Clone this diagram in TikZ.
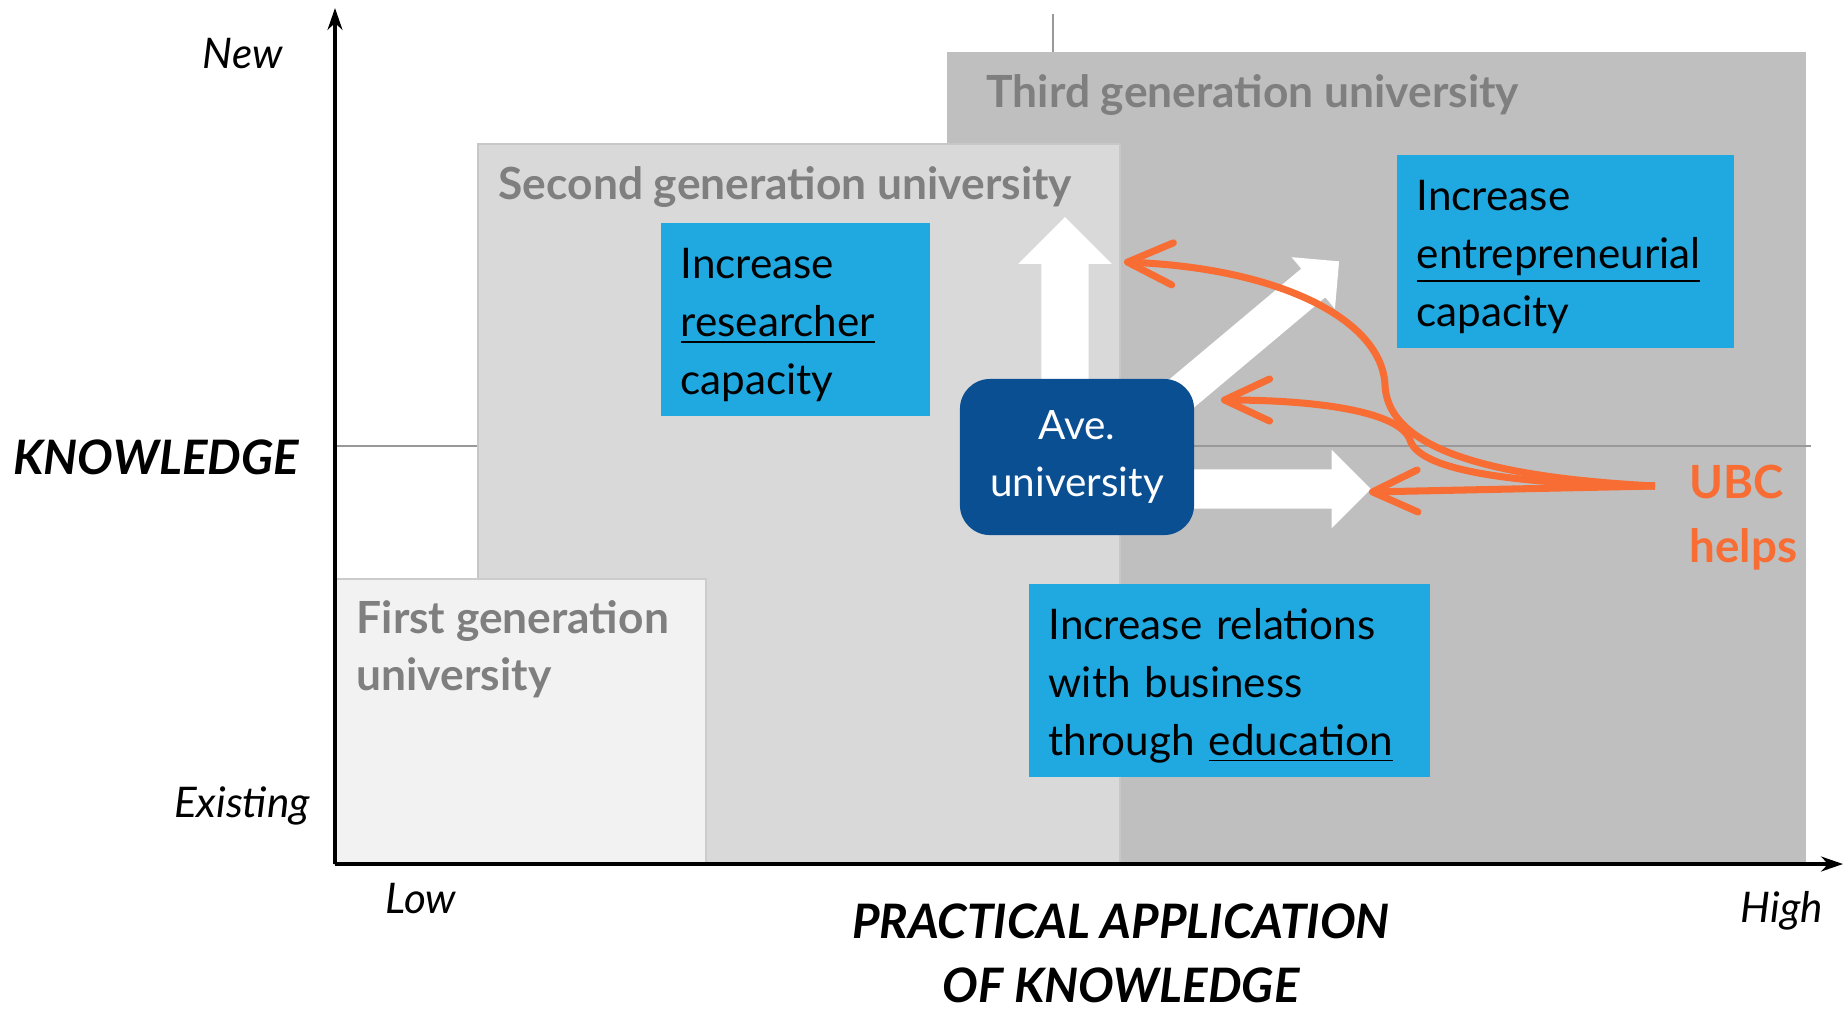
\documentclass[tikz,border=0pt]{standalone}
\usepackage{fontspec}
\setmainfont{Lato}
\usetikzlibrary{arrows.meta,shapes.arrows}

\definecolor{ubcorange}{RGB}{247,109,52}
\definecolor{boxblue}{RGB}{32,169,224}
\definecolor{avenavy}{RGB}{11,79,147}
\definecolor{titlegray}{RGB}{127,127,127}

\tikzset{
  gentitle/.style={anchor=base west, inner sep=0pt, text=titlegray, font=\fontsize{12.6}{15}\selectfont\bfseries},
  goalbox/.style={fill=boxblue, anchor=north west, minimum height=1.93cm, inner xsep=0.2cm, inner ysep=0pt, align=left, font=\fontsize{12}{16.4}\selectfont, execute at begin node={\rule{0pt}{0.42cm}}},
  fatarrow/.style={single arrow, fill=white, inner sep=0pt, single arrow head extend=#1, anchor=tail},
  helparrow/.style={ubcorange, line width=2pt, -{Straight Barb[length=0.45cm, width=0.42cm, round]}},
  axislabel/.style={anchor=base, inner sep=0pt, font=\fontsize{12}{14}\selectfont\itshape},
  axistitle/.style={anchor=base, inner sep=0pt, font=\fontsize{13.5}{16}\selectfont\bfseries\itshape},
}

\begin{document}
\begin{tikzpicture}[x=0.01cm, y=-0.01cm]
    \useasboundingbox (0,0) rectangle (1844,1008);

    % Grid lines and the three regions
    \draw[black!40, line width=0.6pt] (1053,14) -- (1053,864);
    \fill[black!25] (947,52) rectangle (1806,864);
    \draw[black!40, line width=0.6pt] (335,446) -- (1811,446);
    \filldraw[fill=black!15, draw=black!22, line width=0.8pt] (478,144) rectangle (1120,864);
    \filldraw[fill=black!5, draw=black!20, line width=0.8pt] (335,579) rectangle (706,864);

    % Axes
    \coordinate (origin) at (335,864);
    \coordinate (ytop) at (335,8);
    \coordinate (xend) at (1843,864);
    \draw[line width=0.9pt, -{Stealth[length=0.22cm, width=0.15cm]}] (origin) -- (ytop);
    \draw[line width=0.9pt, -{Stealth[length=0.22cm, width=0.15cm]}] (origin) -- (xend);

    % Axis labels
    \node[axislabel] (new) at (243,68) {New};
    \node[axislabel] (existing) at (242,817) {Existing};
    \node[axislabel] (low) at (421,913) {Low};
    \node[axislabel] (high) at (1782,922) {High};
    \node[axistitle] (knowledge) at (156,474) {KNOWLEDGE};
    \node[axistitle] (practical) at (1121,938) {PRACTICAL APPLICATION};
    \node[axistitle] (ofknowledge) at (1121,1002) {OF KNOWLEDGE};

    % Region titles
    \node[gentitle] (third) at (986,107) {Third generation university};
    \node[gentitle] (second) at (498,199) {Second generation university};
    \node[gentitle] (first) at (356,633) {First generation};
    \node[gentitle] (firstuni) at (356,690) {university};

    % Goals
    \node[goalbox, text width=2.29cm] (researcher) at (660,222) {Increase\\\underline{researcher}\\capacity};
    \node[goalbox, text width=2.97cm] (entrepreneur) at (1396,154) {Increase\\\underline{entrepreneurial}\\capacity};
    \node[goalbox, text width=3.61cm] (relations) at (1028,583) {Increase relations\\with business\\through \underline{education}};

    % Directions out of the average university
    \node[fatarrow=0.23cm, rotate=90, minimum height=2.22cm] (uparrow) at (1065,440) {\rule{0pt}{0.46cm}};
    \node[fatarrow=0.15cm, rotate=40, minimum height=2.46cm] (diagarrow) at (1150,420) {\rule{0pt}{0.36cm}};
    \node[fatarrow=0.195cm, minimum height=2.2cm] (rightarrow) at (1150,489) {\rule{0pt}{0.38cm}};
    \node[fill=avenavy, rounded corners=0.3cm, minimum width=2.34cm, minimum height=1.56cm, text=white, align=center, font=\fontsize{11.5}{16.4}\selectfont] (ave) at (1077,457) {Ave.\\university};

    % UBC helps
    \coordinate (helpsrc) at (1655,486);
    \coordinate (uptip) at (1124,262);
    \coordinate (diagtip) at (1221,400);
    \coordinate (righttip) at (1369,492);
    \draw[helparrow] (helpsrc) .. controls (1500,478) and (1388,452) .. (1385,385) .. controls (1382,320) and (1280,268) .. (uptip);
    \draw[helparrow] (helpsrc) .. controls (1520,484) and (1420,472) .. (1410,440) .. controls (1400,412) and (1320,400) .. (diagtip);
    \draw[helparrow] (helpsrc) -- (righttip);
    \node[anchor=base west, inner sep=0pt, text=ubcorange, font=\fontsize{13}{16}\selectfont\bfseries] (ubc) at (1689,498) {UBC};
    \node[anchor=base west, inner sep=0pt, text=ubcorange, font=\fontsize{13}{16}\selectfont\bfseries] (helps) at (1689,562) {helps};
\end{tikzpicture}
\end{document}
